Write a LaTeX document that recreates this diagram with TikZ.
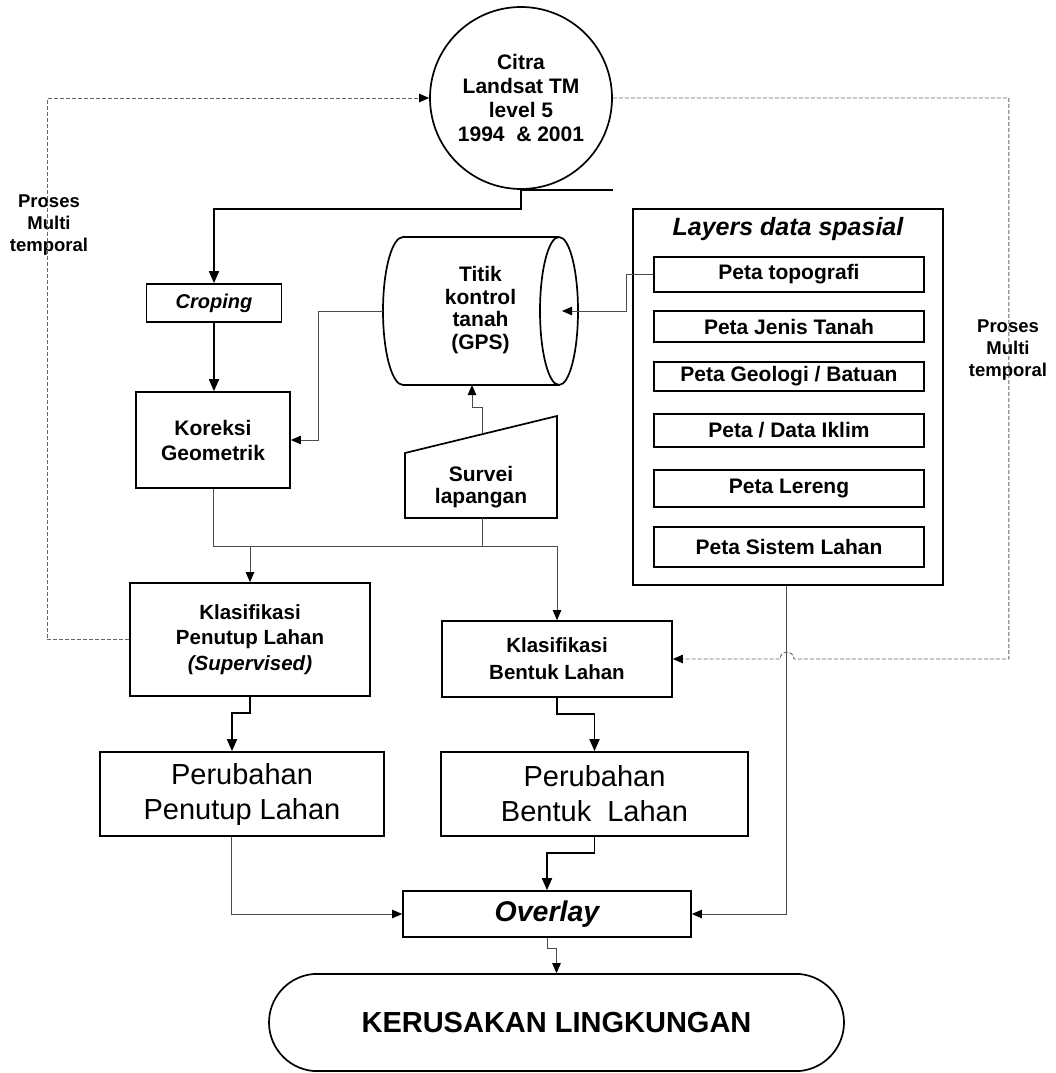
\documentclass[tikz,border=0pt]{standalone}
\usepackage{fontspec}
\setmainfont{Liberation Sans}
\usetikzlibrary{arrows.meta,shapes.misc,calc}
\tikzset{
  boxline/.style={draw=black, line width=1.7pt},
  bx/.style={boxline, rectangle, inner sep=0pt, align=center},
  bold21/.style={font=\fontsize{21}{24}\selectfont\bfseries, align=center},
  pbox/.style={bx, minimum width=270pt, font=\fontsize{21}{23.5}\selectfont\bfseries},
  klas/.style={font=\fontsize{20.5}{25.5}\selectfont\bfseries, align=center},
  perub/.style={font=\fontsize{29}{35}\selectfont, align=center},
  proses/.style={font=\fontsize{18.5}{22}\selectfont\bfseries, align=center},
  thickarrow/.style={line width=1.7pt, -{Triangle[length=12pt,width=10pt]}},
  thinline/.style={line width=0.9pt, draw=black!70},
  thinarrow/.style={thinline, -{Triangle[length=10pt,width=8.5pt,color=black]}},
  dashline/.style={line width=0.9pt, draw=black!60, dash pattern=on 4pt off 2pt},
  dasharrow/.style={dashline, -{Triangle[length=10pt,width=8.5pt,color=black]}},
}
\begin{document}
\begin{tikzpicture}[x=1pt,y=-1pt]
\fill[white] (0,0) rectangle (1056,1073);
\useasboundingbox (0,0) rectangle (1056,1073);

% ---------- nodes ----------
\node[circle, boxline, minimum size=182pt, inner sep=0pt, bold21] (circ) at (521,98)
  {Citra\\Landsat TM\\level 5\\1994\ \ \& 2001};
\node[bx, minimum width=135pt, minimum height=38pt,
      font=\fontsize{20}{22}\selectfont\bfseries\itshape] (crop) at (214,303) {Croping};
\node[bx, minimum width=154pt, minimum height=96pt,
      font=\fontsize{21}{25}\selectfont\bfseries] (kor) at (213,440) {Koreksi\\Geometrik};

% cylinder (Titik kontrol tanah)
\node[inner sep=0pt, minimum width=195pt, minimum height=148pt, align=center,
      font=\fontsize{21}{22.5}\selectfont\bfseries] (gps) at (480.5,311)
  {Titik\\kontrol\\tanah\\(GPS)\rule[-6pt]{0pt}{6pt}};
\draw[boxline] (403,237) -- (559,237);
\draw[boxline] (403,385) -- (559,385);
\begin{scope}
  \clip (360,220) rectangle (403,400);
  \draw[boxline] (403,311) ellipse [x radius=20, y radius=74];
\end{scope}
\draw[boxline] (559,311) ellipse [x radius=19, y radius=74];

% manual input (Survei lapangan)
\draw[boxline] (405,453) -- (557,416) -- (557,518) -- (405,518) -- cycle;
\node[align=center, font=\fontsize{21}{21.5}\selectfont\bfseries] (sur) at (481,487) {Survei\\lapangan};

% layers
\node[bx, minimum width=310pt, minimum height=376pt] (lay) at (788,397) {};
\node[font=\fontsize{25}{26}\selectfont\bfseries\itshape] (laytit) at (788,229) {Layers data spasial};
\node[pbox, minimum height=35pt] (p1) at (789,274.5) {Peta topografi};
\node[pbox, minimum height=31pt] (p2) at (789,326.5) {Peta Jenis Tanah};
\node[pbox, minimum height=29pt] (p3) at (789,376.5) {Peta Geologi / Batuan};
\node[pbox, minimum height=33pt] (p4) at (789,430.5) {Peta / Data Iklim};
\node[pbox, minimum height=37pt] (p5) at (789,488.5) {Peta Lereng};
\node[pbox, minimum height=40pt] (p6) at (789,547) {Peta Sistem Lahan};

% side labels
\node[proses] (pmL) at (49,225) {Proses\\Multi\\temporal};
\node[proses] (pmR) at (1008,350) {Proses\\Multi\\temporal};

% classification
\node[bx, klas, minimum width=240pt, minimum height=113pt] (kpen) at (250,639.5)
  {Klasifikasi\\Penutup Lahan\\\textit{(Supervised)}};
\node[bx, klas, font=\fontsize{20.5}{27}\selectfont\bfseries, minimum width=230pt, minimum height=76pt] (kben) at (557,659)
  {Klasifikasi\\Bentuk Lahan};

% change
\node[bx, perub, minimum width=284pt, minimum height=84pt] (ppen) at (242,794) {Perubahan\\Penutup Lahan};
\node[bx, perub, minimum width=307pt, minimum height=84pt] (pben) at (594.5,794) {Perubahan\\Bentuk\ \ Lahan};

% overlay & result
\node[bx, minimum width=288pt, minimum height=46pt,
      font=\fontsize{28.5}{30}\selectfont\bfseries\itshape] (ovl) at (547,914) {Overlay};
\node[rounded rectangle, rounded rectangle arc length=170, boxline, inner sep=0pt,
      minimum width=575pt, minimum height=97pt,
      font=\fontsize{29}{32}\selectfont\bfseries] (ker) at (556.5,1022.5) {KERUSAKAN LINGKUNGAN};

% ---------- helper coordinates ----------
\coordinate (gpsin) at (562,311);
\coordinate (gpsS) at (472,385);
\coordinate (surtop) at (482,434);
\coordinate (surbot) at (482,518);
\coordinate (jL) at (213,546);
\coordinate (hopR) at (794,659);
\coordinate (hopL) at (780,659);

% ---------- connectors ----------
\draw[line width=1.7pt] (circ.south) -- ++(92,0);
\draw[thickarrow] (circ.south) -- ++(0,19) -| (crop.north);
\draw[thickarrow] (crop.south) -- (crop.south |- kor.north);
\draw[thinarrow] (gps.west) -- ++(-64,0) |- (kor.east);
\draw[thinarrow] (p1.west) -- ++(-27,0) |- (gpsin);
\draw[thinarrow] (surtop) -- ++(0,-27) -- ++(-10,0) -- (gpsS);

\draw[thinarrow] (kor.south) -- (jL) -| (kben.north);
\draw[thinarrow] (jL -| kpen.north) -- (kpen.north);
\draw[thinline] (surbot) -- (surbot |- jL);

\draw[thickarrow] (kpen.south) -- ++(0,16) -| ([xshift=-10pt]ppen.north);
\draw[thickarrow] (kben.south) -- ++(0,16) -| (pben.north);
\draw[thinarrow] ([xshift=-11pt]ppen.south) |- (ovl.west);
\draw[thickarrow] (pben.south) -- ++(0,16) -| (ovl.north);
\draw[thinarrow] ([xshift=-2pt]lay.south) |- (ovl.east);
\draw[thinarrow] (ovl.south) -- ++(0,11) -| (ker.north);

% multi-temporal dashed loops
\draw[dasharrow] (kpen.west) -- ++(-82,0) |- (circ.west);
\draw[dasharrow] (circ.east) -- ++(396,0) |- (hopR)
  .. controls ($(hopR)+(0,-9)$) and ($(hopL)+(0,-9)$) .. (hopL) -- (kben.east);
\end{tikzpicture}
\end{document}
